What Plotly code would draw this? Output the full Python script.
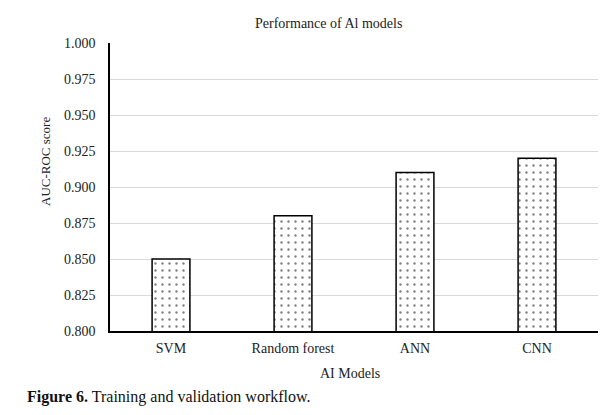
import plotly.graph_objects as go

models = ["SVM", "Random forest", "ANN", "CNN"]
auc_roc = [0.850, 0.880, 0.910, 0.920]
y_ticks = [0.800, 0.825, 0.850, 0.875, 0.900, 0.925, 0.950, 0.975, 1.000]

W, H = 609, 415
L, R, T, B = 110, 11, 43, 84
serif = "Liberation Serif"
txt = "#222"

fig = go.Figure()
fig.add_trace(go.Bar(
    x=models, y=auc_roc,
    marker=dict(
        color="white",
        line=dict(color="black", width=1.5),
        pattern=dict(shape=".", fgcolor="black", bgcolor="white", size=7, solidity=0.09),
    ),
    width=0.31,
))

fig.update_layout(
    width=W, height=H,
    margin=dict(l=L, r=R, t=T, b=B),
    paper_bgcolor="white", plot_bgcolor="white",
    font=dict(family=serif, size=13, color=txt),
    showlegend=False,
    xaxis=dict(
        showline=True, linecolor="black", linewidth=1.5,
        showgrid=False, ticks="", ticklabelstandoff=3,
        tickfont=dict(family=serif, size=14, color=txt),
    ),
    yaxis=dict(
        range=[0.8, 1.0], tickvals=y_ticks, tickformat=".3f",
        showline=True, linecolor="black", linewidth=1.5,
        showgrid=True, gridcolor="#d9d9d9", gridwidth=1,
        ticks="", ticklabelstandoff=10, zeroline=False,
        tickfont=dict(family=serif, size=14, color=txt),
    ),
)

pw = W - L - R
ph = H - T - B
def px_to_paper(xp, yp):
    return (xp - L) / pw, (H - B - yp) / ph

def ann(text, xp, yp, size, xanchor="center", angle=0, color=txt):
    x, y = px_to_paper(xp, yp)
    return dict(text=text, x=x, y=y, xref="paper", yref="paper",
                xanchor=xanchor, yanchor="middle", showarrow=False, textangle=angle,
                font=dict(family=serif, size=size, color=color))

fig.update_layout(annotations=[
    ann("Performance of Al models", 328, 23, 14),
    ann("AUC-ROC score", 45, 162, 13, angle=-90),
    ann("AI Models", 350, 373, 14),
    ann("<b>Figure 6.</b> Training and validation workflow.", 25, 397, 16, xanchor="left", color="#111"),
])

fig.write_html("out.html")
